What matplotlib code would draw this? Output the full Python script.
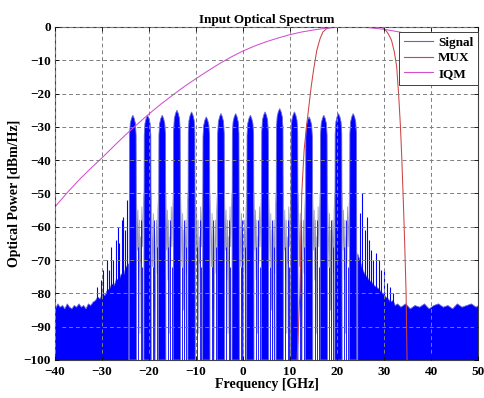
import matplotlib
matplotlib.use("Agg")
import matplotlib.pyplot as plt
from matplotlib.lines import Line2D

plt.rcParams['font.family'] = ['Liberation Serif', 'DejaVu Serif']
plt.rcParams['font.weight'] = 'bold'

# ---- subcarrier comb (centre frequency in GHz, peak level in dBm/Hz) ----
carrier_freqs = [-23.44, -20.31, -17.19, -14.06, -10.94, -7.81, -4.69, -1.56,
                 1.56, 4.69, 7.81, 10.94, 14.06, 17.19, 20.31, 23.44]
carrier_peaks = [-26.5, -26.5, -26.5, -25.0, -25.5, -27.0, -26.0, -26.0,
                 -26.5, -25.5, -24.5, -25.5, -27.0, -26.5, -26.0, -26.0]

# main-lobe outline of one subcarrier: offset from centre [GHz], level below peak [dB]
lobe_offsets = [-0.78, -0.74, -0.70, -0.55, -0.30, 0.0, 0.30, 0.55, 0.70, 0.74, 0.78]
lobe_drop = [-80.0, -30.0, -6.0, -2.5, -1.0, 0.0, -1.0, -2.5, -6.0, -30.0, -80.0]

# side-lobe traces between neighbouring subcarriers: offset from gap centre [GHz], level [dBm/Hz]
gap_offsets = [-0.78, -0.62, -0.48, -0.33, -0.18, -0.05, 0.08, 0.22, 0.36, 0.50, 0.64, 0.78]
gap_levels_a = [-50, -67, -55, -76, -58, -92, -63, -71, -54, -66, -57, -50]
gap_levels_b = [-50, -60, -72, -56, -85, -61, -100, -66, -58, -74, -55, -50]

# strongest side-lobe spikes inside each gap
gap_spike_offsets = [-0.40, 0.12, 0.45]
gap_spike_levels = [-66, -58, -72]

# out-of-band noise floor (left and right skirts)
skirt_left_f = [-40, -39.5, -39, -38.5, -38, -37.5, -37, -36.5, -36, -35.5, -35, -34.5,
                -34, -33.5, -33, -32.5, -32, -31.5, -31, -30.5, -30, -29.5, -29, -28.5,
                -28, -27.5, -27, -26.5, -26, -25.5, -25, -24.4]
skirt_left_db = [-84.5, -83, -84, -83.5, -84.5, -83, -84, -84.5, -83.5, -84, -83, -84,
                 -83.5, -84.5, -83, -83.5, -82.5, -82, -81, -81.5, -80, -80.5, -79, -78.5,
                 -77, -77.5, -75.5, -76, -74, -74.5, -72, -71]
skirt_right_f = [24.3, 24.8, 25.3, 25.8, 26.3, 26.8, 27.3, 27.8, 28.3, 28.8, 29.3, 29.8,
                 30.3, 30.8, 31.3, 31.8, 32.3, 32.8, 33.5, 34.5, 35.5, 36.5, 37.5, 38.5,
                 39.5, 40.5, 41.5, 42.5, 43.5, 44.5, 45.5, 46.5, 47.5, 48.5, 49.5, 50]
skirt_right_db = [-68, -70, -72.5, -74, -75, -76, -76.5, -77.5, -78, -78.5, -79.5, -80,
                  -81, -81.5, -82.5, -82, -83.5, -83, -84, -83, -84.5, -83.5, -84, -83,
                  -84.5, -83.5, -83, -84, -83.5, -84.5, -83, -84, -83.5, -83, -84, -83.5]

# isolated spectral spurs on the skirts
spur_left_f = [-31.0, -30.3, -29.8, -29.0, -28.6, -28.1, -27.6, -27.1, -26.6, -26.3,
               -25.8, -25.5, -25.1, -24.7]
spur_left_db = [-78, -76, -73, -70, -73, -66, -70, -64, -60, -65, -58, -57, -61, -52]
spur_right_f = [24.8, 25.4, 25.9, 26.3, 26.9, 27.3, 27.7, 28.4, 28.9, 29.4, 30.1, 30.6,
                31.3, 31.9]
spur_right_db = [-56, -50, -61, -57, -64, -67, -70, -68, -70, -73, -73, -77, -78, -80]

# MUX filter transfer function
mux_f = [11.5, 12.1, 12.5, 13.0, 13.5, 14.0, 14.5, 15.0, 15.7, 16.4, 17.0, 17.8, 18.8,
         20.0, 25.0, 29.0, 29.8, 30.5, 31.0, 31.6, 32.2, 32.7, 33.1, 33.5, 33.8, 34.1,
         34.4, 34.7, 34.9]
mux_db = [-100, -80, -50, -37, -30, -24, -18, -13, -7, -3.5, -1.5, -0.5, -0.1,
          0, 0, 0, -0.3, -1.2, -2.3, -4, -7.5, -12, -20, -30, -40, -52,
          -65, -80, -100]

# IQ modulator frequency response
iqm_f = [-40, -37.5, -35, -32.5, -30, -27.5, -25, -22.5, -20, -17.5, -15, -12.5, -10,
         -7.5, -5, -2.5, 0, 2.5, 5, 7.5, 10, 12.5, 15, 17.5, 20, 22.5, 25, 27.5, 30,
         32.5, 35, 37.5, 40, 42.5, 45, 47.5, 50]
iqm_db = [-54, -49.9, -46.1, -42.6, -39.3, -35.8, -32.4, -29.2, -26.1, -23.2, -20.5, -17.9,
          -15.5, -13.2, -11, -9, -7.2, -5.7, -4.4, -3.3, -2.3, -1.5, -0.9, -0.4, -0.1,
          0, 0, -0.3, -0.7, -1.3, -2, -2.9, -3.9, -5.2, -6.6, -8, -9.5]

x_ticks = [-40, -30, -20, -10, 0, 10, 20, 30, 40, 50]
y_ticks = [-100, -90, -80, -70, -60, -50, -40, -30, -20, -10, 0]

BLUE = '#0000ff'
EDGE = '#6a6ad8'
TRACE = '#9494b8'
FLOOR = -100

fig = plt.figure(figsize=(4.85, 3.98), dpi=100)
ax = fig.add_axes([0.1134, 0.0955, 0.8722, 0.8367])

# noise floor skirts
ax.fill_between(skirt_left_f, FLOOR, skirt_left_db, facecolor=BLUE, edgecolor=EDGE, lw=0.6)
ax.fill_between(skirt_right_f, FLOOR, skirt_right_db, facecolor=BLUE, edgecolor=EDGE, lw=0.6)
ax.vlines(spur_left_f, FLOOR, spur_left_db, colors=BLUE, lw=0.8)
ax.vlines(spur_right_f, FLOOR, spur_right_db, colors=BLUE, lw=0.8)

# side-lobe traces between subcarriers
for i in range(len(carrier_freqs) - 1):
    mid = 0.5 * (carrier_freqs[i] + carrier_freqs[i + 1])
    levels = gap_levels_a if i % 2 == 0 else gap_levels_b
    ax.plot([mid + o for o in gap_offsets], levels, color=TRACE, lw=0.55)
    offs = gap_spike_offsets if i % 2 == 0 else [-o for o in gap_spike_offsets]
    ax.vlines([mid + o for o in offs], FLOOR, gap_spike_levels, colors=BLUE, lw=0.6)

# subcarrier main lobes
for fc, pk in zip(carrier_freqs, carrier_peaks):
    xs = [fc + o for o in lobe_offsets]
    ys = [max(FLOOR, pk + d) for d in lobe_drop]
    ax.fill(xs, ys, facecolor=BLUE, edgecolor=EDGE, lw=0.6)

ax.plot(mux_f, mux_db, color='#cc4444', lw=0.75)
ax.plot(iqm_f, iqm_db, color='#d050d0', lw=0.75)

ax.set_xlim(-40, 50)
ax.set_ylim(-100, 0)
ax.set_xticks(x_ticks)
ax.set_yticks(y_ticks)
ax.tick_params(direction='in', length=3, width=0.6, labelsize=9.5,
               top=True, right=True)
ax.tick_params(axis='x', pad=4)
ax.tick_params(axis='y', pad=3)
for lab in ax.get_xticklabels() + ax.get_yticklabels():
    lab.set_fontweight('bold')
ax.set_axisbelow(False)
ax.grid(True, color='#7f7f7f', linestyle=(0, (4, 3)), lw=0.7)
for sp in ax.spines.values():
    sp.set_linewidth(0.8)
    sp.set_color('#404040')

ax.set_title('Input Optical Spectrum', fontsize=9.5, fontweight='bold', pad=3)
ax.set_xlabel('Frequency [GHz]', fontsize=10, fontweight='bold', labelpad=0)
ax.set_ylabel('Optical Power [dBm/Hz]', fontsize=10, fontweight='bold', labelpad=2)

handles = [Line2D([], [], color='#6060d0', lw=0.8),
           Line2D([], [], color='#cc4444', lw=0.8),
           Line2D([], [], color='#d050d0', lw=0.8)]
leg = ax.legend(handles, ['Signal', 'MUX', 'IQM'], loc='upper right',
                bbox_to_anchor=(1.0, 0.985), fancybox=False, framealpha=1,
                edgecolor='#404040', fontsize=9.5, handlelength=2.2,
                handletextpad=0.4, labelspacing=0.25, borderpad=0.35,
                borderaxespad=0.0)
leg.get_frame().set_linewidth(0.7)
for t in leg.get_texts():
    t.set_fontweight('bold')

fig.savefig('out.png', dpi=100)
